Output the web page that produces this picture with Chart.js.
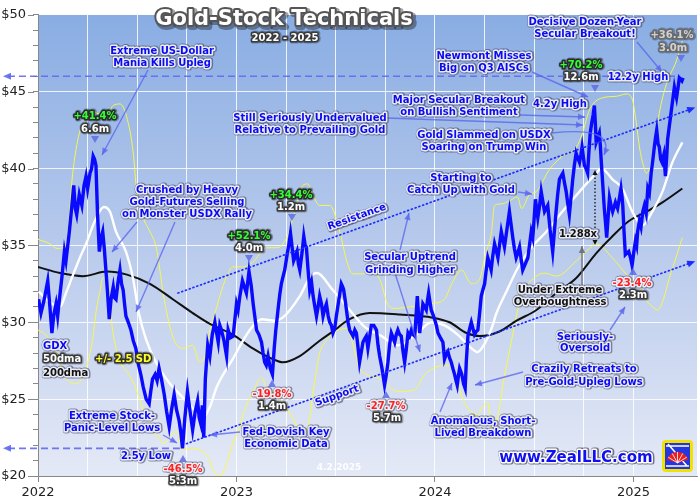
<!DOCTYPE html>
<html>
<head>
<meta charset="utf-8">
<title>Gold-Stock Technicals</title>
<script src="https://cdn.jsdelivr.net/npm/chart.js@4.4.1/dist/chart.umd.min.js"></script>
<style>
  html, body { margin: 0; padding: 0; background: #fff; }
  #grafico { display: block; width: 700px; height: 500px; }
</style>
</head>
<body>
<canvas id="grafico" width="700" height="500"></canvas>
<script>
// GDX closes (decimal years)
const gdxDates = [
  2022.003,2022.015,2022.030,2022.049,2022.060,2022.070,2022.080,2022.091,2022.099,2022.107,
  2022.121,2022.133,2022.141,2022.158,2022.170,2022.180,2022.188,2022.195,2022.208,2022.221,
  2022.232,2022.242,2022.250,2022.262,2022.270,2022.278,2022.285,2022.292,2022.300,2022.309,
  2022.318,2022.326,2022.334,2022.342,2022.350,2022.359,2022.368,2022.379,2022.386,2022.393,
  2022.403,2022.413,2022.421,2022.429,2022.436,2022.443,2022.455,2022.468,2022.480,2022.493,
  2022.505,2022.518,2022.530,2022.545,2022.560,2022.568,2022.577,2022.590,2022.600,2022.610,
  2022.622,2022.636,2022.648,2022.661,2022.674,2022.686,2022.698,2022.711,2022.720,2022.728,
  2022.740,2022.753,2022.765,2022.779,2022.792,2022.804,2022.812,2022.820,2022.828,2022.835,
  2022.843,2022.855,2022.866,2022.878,2022.891,2022.900,2022.908,2022.916,2022.924,2022.937,
  2022.950,2022.958,2022.970,2022.983,
  2023.000,2023.008,2023.017,2023.030,2023.040,2023.050,2023.063,2023.074,2023.084,2023.093,
  2023.101,2023.113,2023.126,2023.134,2023.142,2023.150,2023.159,2023.170,2023.181,2023.190,
  2023.198,2023.209,2023.218,2023.226,2023.235,2023.243,2023.255,2023.263,2023.272,2023.280,
  2023.288,2023.297,2023.305,2023.312,2023.319,2023.330,2023.339,2023.346,2023.352,2023.360,
  2023.369,2023.378,2023.386,2023.395,2023.403,2023.411,2023.419,2023.428,2023.436,2023.445,
  2023.453,2023.462,2023.470,2023.478,2023.486,2023.495,2023.503,2023.515,2023.528,2023.535,
  2023.540,2023.548,2023.554,2023.562,2023.570,2023.578,2023.587,2023.596,2023.604,2023.612,
  2023.620,2023.628,2023.637,2023.645,2023.654,2023.662,2023.670,2023.679,2023.692,2023.705,
  2023.713,2023.721,2023.733,2023.746,2023.755,2023.763,2023.771,2023.780,2023.789,2023.797,
  2023.805,2023.813,2023.822,2023.830,2023.838,2023.847,2023.855,2023.864,2023.872,2023.881,
  2023.890,2023.898,2023.905,2023.911,2023.917,2023.923,2023.931,2023.939,2023.948,2023.956,
  2023.962,2023.968,2023.975,2023.981,2023.990,2023.998,
  2024.007,2024.015,2024.027,2024.040,2024.048,2024.056,2024.065,2024.073,2024.082,2024.090,
  2024.099,2024.106,2024.112,2024.118,2024.124,2024.130,2024.135,2024.144,2024.152,2024.158,
  2024.166,2024.175,2024.183,2024.191,2024.199,2024.208,2024.216,2024.225,2024.233,2024.241,
  2024.250,2024.258,2024.266,2024.275,2024.283,2024.291,2024.300,2024.308,2024.317,2024.325,
  2024.334,2024.342,2024.350,2024.362,2024.375,2024.383,2024.392,2024.400,2024.409,2024.417,
  2024.426,2024.434,2024.442,2024.455,2024.468,2024.476,2024.485,2024.493,2024.506,2024.512,
  2024.518,2024.527,2024.535,2024.544,2024.552,2024.560,2024.568,2024.580,2024.593,2024.602,
  2024.610,2024.618,2024.627,2024.635,2024.644,2024.652,2024.661,2024.669,2024.677,2024.686,
  2024.694,2024.702,2024.711,2024.719,2024.728,2024.735,2024.741,2024.747,2024.753,2024.761,
  2024.769,2024.775,2024.782,2024.790,2024.797,2024.803,2024.808,2024.812,2024.820,2024.828,
  2024.833,2024.837,2024.845,2024.853,2024.859,2024.865,2024.872,2024.879,2024.887,2024.895,
  2024.902,2024.909,2024.914,2024.920,2024.928,2024.937,2024.942,2024.946,2024.952,2024.959,
  2024.967,2024.976,2024.985,2024.993,
  2025.001,2025.010,2025.016,2025.021,2025.030,2025.038,2025.047,2025.055,2025.064,2025.072,
  2025.080,2025.089,2025.097,2025.105,2025.111,2025.117,2025.124,2025.130,2025.137,2025.144,
  2025.153,2025.161,2025.167,2025.172,2025.180,2025.189,2025.198,2025.206,2025.212,2025.217,
  2025.224,2025.231,2025.238,2025.244,2025.250
];
const gdxClose = [
  31.5,30.6,31.4,32.7,31.0,29.3,30.5,31.2,30.4,31.4,
  33.0,34.6,34.0,35.9,37.5,38.9,37.4,37.0,38.3,37.6,
  38.9,39.5,38.7,39.7,40.0,40.8,40.6,40.2,37.0,34.6,
  35.5,35.9,34.8,33.4,32.0,30.2,31.5,32.3,31.6,31.5,
  32.6,33.4,32.5,32.1,31.2,30.4,30.0,29.5,28.8,28.3,
  27.3,26.6,25.8,25.0,24.7,25.5,26.3,26.6,26.2,27.0,
  26.3,25.3,24.2,23.2,24.4,25.3,24.3,23.6,22.8,21.8,
  23.8,25.5,24.3,23.0,24.2,24.9,23.8,23.4,24.6,22.5,
  26.3,28.5,27.8,29.2,30.0,29.3,28.7,29.8,29.5,28.8,
  27.8,29.5,29.0,29.1,
  31.2,30.8,31.7,32.7,32.3,31.9,33.3,32.4,31.2,30.3,
  29.5,29.2,28.7,28.0,27.4,27.2,27.8,27.0,26.6,28.3,
  29.5,30.8,31.8,32.5,33.0,33.4,34.4,35.0,35.8,34.9,
  34.0,34.3,34.6,33.8,33.4,34.5,35.6,35.0,34.9,33.5,
  32.1,32.6,31.7,31.0,30.4,31.0,31.7,31.2,30.4,30.9,
  31.2,30.4,30.0,29.8,29.3,29.6,30.4,31.4,32.5,32.3,
  32.1,31.4,30.8,30.0,29.5,29.3,29.1,29.5,29.3,28.4,
  27.4,28.0,28.7,28.9,29.1,28.3,29.0,29.8,29.8,29.5,
  28.5,27.8,27.0,25.9,26.6,27.4,28.5,29.3,29.0,28.7,
  29.2,29.5,29.2,29.1,28.2,27.4,28.2,29.3,29.1,29.5,
  29.2,29.1,30.5,31.7,30.5,29.3,30.2,31.2,31.0,30.8,
  31.4,31.9,31.3,30.8,30.5,30.2,
  29.8,29.3,29.0,28.7,27.6,27.9,28.1,27.7,27.4,27.0,
  26.6,26.2,25.9,26.5,27.0,26.8,26.6,26.0,25.7,27.5,
  29.1,29.6,30.0,29.6,29.2,29.4,29.5,30.6,31.7,32.1,
  32.5,33.4,34.2,33.8,33.4,34.3,35.1,34.7,34.2,35.0,
  35.9,35.4,34.9,36.0,37.2,36.4,35.5,34.8,34.2,34.5,
  34.9,34.1,33.4,33.8,34.2,35.0,35.9,35.5,38.0,37.4,
  36.8,37.6,38.5,37.8,37.2,37.4,37.6,36.0,34.6,36.0,
  37.2,38.3,39.3,39.5,39.7,39.1,38.5,37.7,37.0,38.2,
  39.3,40.2,41.0,40.7,40.4,40.9,41.4,40.8,40.2,40.0,
  39.7,41.0,42.3,43.0,43.5,44.1,42.9,41.7,42.0,42.3,
  41.5,40.6,39.0,37.4,36.5,35.5,36.8,38.1,37.6,37.2,
  37.5,37.8,37.6,37.4,38.0,38.7,38.2,37.6,36.0,34.4,
  34.5,34.6,34.2,33.7,
  34.5,35.3,35.0,35.9,36.6,36.2,37.2,37.6,37.1,38.7,
  38.4,39.7,40.5,41.4,42.0,42.5,41.6,41.4,40.6,40.4,
  40.9,39.5,40.7,41.9,42.7,43.6,44.5,45.3,44.9,44.6,
  45.2,45.9,45.8,45.7,45.9
];

// 50-day moving average
const ma50Dates = [
  2022.004,2022.060,2022.111,2022.141,2022.171,2022.211,2022.242,2022.287,2022.332,2022.362,
  2022.393,2022.443,2022.478,2022.508,2022.544,2022.594,2022.659,2022.730,2022.795,2022.830,
  2022.866,2022.901,2022.981,2023.067,2023.127,2023.193,2023.233,2023.319,2023.369,2023.404,
  2023.485,2023.570,2023.646,2023.731,2023.812,2023.897,2023.983,2024.048,2024.114,2024.184,
  2024.214,2024.250,2024.285,2024.310,2024.360,2024.416,2024.481,2024.562,2024.642,2024.728,
  2024.813,2024.838,2024.894,2024.944,2024.994,2025.045,2025.095,2025.146,2025.196,2025.246
];
const ma50Values = [
  32.0,31.3,31.0,31.9,32.9,34.2,35.1,36.6,37.5,37.2,
  35.9,34.6,32.9,30.6,28.9,27.4,26.1,25.1,24.2,23.8,
  24.5,25.8,27.6,29.5,30.2,30.1,30.3,31.7,32.9,33.2,
  32.1,30.8,29.7,29.1,28.5,29.1,30.0,29.8,29.2,28.3,
  28.05,28.6,29.6,30.6,32.0,33.5,34.8,35.9,37.2,38.5,
  39.7,40.0,39.3,38.7,37.2,36.3,37.2,38.5,40.4,41.7
];

// 200-day moving average
const ma200Dates = [
  2022.000,2022.111,2022.226,2022.347,2022.448,2022.564,2022.679,2022.780,2022.866,2022.981,
  2023.082,2023.183,2023.233,2023.319,2023.419,2023.485,2023.570,2023.671,2023.822,2023.988,
  2024.073,2024.159,2024.224,2024.325,2024.411,2024.511,2024.612,2024.713,2024.813,2024.894,
  2024.979,2025.080,2025.146,2025.246
];
const ma200Values = [
  33.6,33.2,33.0,33.3,33.1,32.5,31.5,30.6,29.9,29.2,
  28.3,27.6,27.4,27.8,28.8,29.4,30.2,30.6,30.5,30.3,
  30.0,29.3,29.1,29.4,30.1,30.8,31.9,32.9,34.5,35.6,
  36.6,37.3,37.8,38.7
];

// +2.5 SD band
const upperDates = [
  2022.000,2022.060,2022.096,2022.141,2022.175,2022.208,2022.245,2022.275,2022.295,2022.346,
  2022.379,2022.413,2022.446,2022.480,2022.497,2022.530,2022.564,2022.597,2022.614,2022.629,
  2022.678,2022.728,2022.779,2022.815,2022.845,2022.866,2022.901,2022.916,2022.951,2022.981,
  2023.032,2023.082,2023.152,2023.203,2023.253,2023.303,2023.334,2023.359,2023.384,2023.419,
  2023.470,2023.520,2023.555,2023.585,2023.636,2023.671,2023.721,2023.761,2023.797,2023.872,
  2023.973,2024.048,2024.084,2024.134,2024.184,2024.225,2024.250,2024.285,2024.300,2024.335,
  2024.375,2024.416,2024.436,2024.476,2024.511,2024.577,2024.642,2024.713,2024.743,2024.778,
  2024.843,2024.914,2024.964,2024.994,2025.015,2025.030,2025.050,2025.065,2025.095,2025.130,
  2025.166,2025.216,2025.246
];
const upperValues = [
  35.4,35.1,34.8,35.0,39.7,42.3,43.2,43.8,43.6,43.5,
  44.1,44.2,43.4,41.0,38.5,36.8,35.9,34.8,33.4,32.0,
  29.1,28.3,28.5,27.4,28.0,29.5,31.0,31.7,33.0,33.6,
  33.6,33.9,34.85,34.85,35.5,37.6,38.9,39.0,38.3,37.6,
  37.6,35.9,34.0,33.15,33.15,33.3,32.8,31.2,30.9,31.0,
  31.2,31.5,32.5,33.4,32.5,32.8,34.2,35.9,37.6,37.7,
  37.9,38.15,37.4,38.3,38.5,39.95,40.8,41.4,42.3,43.8,
  44.6,44.7,44.85,44.5,42.9,41.4,40.2,39.7,40.6,43.6,
  45.5,47.0,48.3
];

// -2.5 SD band
const lowerDates = [
  2022.000,2022.045,2022.111,2022.141,2022.191,2022.242,2022.275,2022.294,2022.312,2022.327,
  2022.351,2022.376,2022.409,2022.459,2022.493,2022.527,2022.560,2022.580,2022.610,2022.631,
  2022.664,2022.698,2022.728,2022.775,2022.815,2022.866,2022.881,2022.916,2022.950,2022.983,
  2023.017,2023.033,2023.084,2023.126,2023.151,2023.201,2023.252,2023.285,2023.319,2023.352,
  2023.386,2023.419,2023.453,2023.486,2023.554,2023.621,2023.654,2023.730,2023.812,2023.897,
  2023.948,2024.065,2024.099,2024.132,2024.166,2024.216,2024.240,2024.265,2024.290,2024.315,
  2024.350,2024.384,2024.417,2024.436,2024.476,2024.552,2024.612,2024.713,2024.778,2024.813,
  2024.893,2024.979,2025.030,2025.063,2025.097,2025.122,2025.151,2025.181,2025.214,2025.246
];
const lowerValues = [
  29.5,29.1,27.5,26.4,26.0,27.0,28.9,30.8,32.0,32.9,
  32.5,29.5,27.6,26.6,25.7,24.4,23.6,22.9,22.5,22.1,
  22.6,22.9,21.7,21.8,21.7,21.0,20.4,20.0,20.8,22.2,
  23.15,24.0,25.5,26.4,25.8,25.3,24.4,23.7,23.0,22.8,
  25.5,28.0,28.8,29.3,29.6,27.0,26.6,26.3,25.5,25.6,
  26.6,27.2,26.8,25.3,24.4,24.0,24.5,24.8,22.9,23.8,
  26.5,28.7,30.8,31.8,32.6,33.2,33.0,34.0,34.8,35.1,
  34.2,32.9,32.3,31.45,31.0,30.8,31.5,32.9,34.2,35.5
];

// trend channel and price levels
const resistanceDates = [2022.705, 2025.296];
const resistanceValues = [31.9, 43.9];
const supportDates = [2022.748, 2025.296];
const supportValues = [22.1, 33.9];
const highLevel = 46.0, highLevelEnd = 2025.216;
const lowLevel = 21.8, lowLevelEnd = 2022.715;

const yearLabels = [2022, 2023, 2024, 2025];

function puntos(fechas, valores) {
  const n = Math.min(fechas.length, valores.length);
  const out = [];
  for (let i = 0; i < n; i++) out.push({x: fechas[i], y: valores[i]});
  return out;
}

const estilos = {
  blue:   {fill: '#0b0bef', stroke: '#e9ecf7', shade: 'rgba(60,60,90,0.55)'},
  red:    {fill: '#ff1f1f', stroke: '#eceef6', shade: 'rgba(60,60,90,0.55)'},
  black:  {fill: '#111111', stroke: '#e9ecf4', shade: 'rgba(60,60,90,0.55)'},
  green:  {fill: '#33ff33', stroke: '#2a2a2a', shade: 'rgba(0,0,0,0.3)'},
  white:  {fill: '#ffffff', stroke: '#3a3a3a', shade: 'rgba(0,0,0,0.3)'},
  gray:   {fill: '#d2d2d2', stroke: '#6a6a6a', shade: 'rgba(0,0,0,0.25)'},
  yellow: {fill: '#ffff2a', stroke: '#333333', shade: 'rgba(0,0,0,0.3)'}
};

// text notes: [text, x, y, style, align]
const notas = [
  ['Extreme US-Dollar', 162, 51, 'blue'], ['Mania Kills Upleg', 162, 63, 'blue'],
  ['+41.4%', 95, 116, 'green'], ['6.6m', 95, 129, 'white'],
  ['Still Seriously Undervalued', 310, 118, 'blue'], ['Relative to Prevailing Gold', 310, 130, 'blue'],
  ['Crushed by Heavy', 187, 190, 'blue'], ['Gold-Futures Selling', 187, 202, 'blue'], ['on Monster USDX Rally', 187, 214, 'blue'],
  ['+52.1%', 249, 236, 'green'], ['4.0m', 249, 248, 'white'],
  ['+34.4%', 291, 195, 'green'], ['1.2m', 291, 207, 'white'],
  ['-19.8%', 272, 394, 'red'], ['1.4m', 272, 406, 'white'],
  ['Fed-Dovish Key', 286, 432, 'blue'], ['Economic Data', 286, 444, 'blue'],
  ['Extreme Stock-', 112, 416, 'blue'], ['Panic-Level Lows', 112, 428, 'blue'],
  ['2.5y Low', 146, 456, 'blue'],
  ['-46.5%', 183, 469, 'red'], ['5.3m', 183, 481, 'white'],
  ['GDX', 43, 346, 'blue', 'left'],
  ['50dma', 43, 359, 'white', 'left'], ['+/- 2.5 SD', 95, 359, 'yellow', 'left'],
  ['200dma', 43, 373, 'black', 'left'],
  ['Starting to', 461, 178, 'blue'], ['Catch Up with Gold', 461, 190, 'blue'],
  ['Secular Uptrend', 410, 257, 'blue'], ['Grinding Higher', 410, 270, 'blue'],
  ['Major Secular Breakout', 459, 100, 'blue'], ['on Bullish Sentiment', 459, 112, 'blue'],
  ['4.2y High', 560, 104, 'blue'],
  ['Newmont Misses', 484, 56, 'blue'], ['Big on Q3 AISCs', 484, 68, 'blue'],
  ['+70.2%', 581, 65, 'green'], ['12.6m', 581, 77, 'white'],
  ['12.2y High', 638, 77, 'blue'],
  ['Decisive Dozen-Year', 585, 22, 'blue'], ['Secular Breakout!', 585, 34, 'blue'],
  ['+36.1%', 672, 35, 'gray'], ['3.0m', 673, 48, 'gray'],
  ['Gold Slammed on USDX', 484, 135, 'blue'], ['Soaring on Trump Win', 484, 147, 'blue'],
  ['1.288x', 578, 234, 'black'],
  ['Under Extreme', 560, 290, 'black'], ['Overboughtness', 560, 302, 'black'],
  ['-23.4%', 632, 283, 'red'], ['2.3m', 633, 295, 'white'],
  ['Seriously-', 585, 337, 'blue'], ['Oversold', 585, 348, 'blue'],
  ['Crazily Retreats to', 584, 369, 'blue'], ['Pre-Gold-Upleg Lows', 584, 382, 'blue'],
  ['-27.7%', 386, 406, 'red'], ['5.7m', 387, 418, 'white'],
  ['Anomalous, Short-', 483, 421, 'blue'], ['Lived Breakdown', 483, 433, 'blue']
];

// pointer arrows: [x1, y1, x2, y2]
const flechas = [
  [148, 70, 102, 155], [137, 222, 112, 252], [175, 222, 136, 312],
  [163, 435, 177, 443], [240, 432, 210, 435], [387, 118, 583, 125],
  [520, 115, 585, 117], [532, 72, 588, 97], [637, 42, 662, 72],
  [400, 250, 409, 213], [395, 273, 420, 352], [518, 192, 532, 194],
  [610, 330, 625, 307], [523, 372, 475, 385], [440, 412, 452, 383]
];
// little markers: [x, y, pointing down?]
const marcas = [
  [95, 139, true], [249, 258, true], [292, 217, true], [595, 88, true], [681, 58, true],
  [183, 459, false], [272, 384, false], [386, 395, false], [633, 272, false]
];

function cabeza(ctx, x1, y1, x2, y2, len, ancho) {
  const a = Math.atan2(y2 - y1, x2 - x1);
  ctx.beginPath();
  ctx.moveTo(x2, y2);
  ctx.lineTo(x2 - len * Math.cos(a) + ancho * Math.sin(a), y2 - len * Math.sin(a) - ancho * Math.cos(a));
  ctx.lineTo(x2 - len * Math.cos(a) - ancho * Math.sin(a), y2 - len * Math.sin(a) + ancho * Math.cos(a));
  ctx.closePath();
  ctx.fill();
}

function flecha(ctx, x1, y1, x2, y2, color) {
  ctx.strokeStyle = color; ctx.fillStyle = color;
  ctx.lineWidth = 1.4;
  ctx.beginPath(); ctx.moveTo(x1, y1); ctx.lineTo(x2, y2); ctx.stroke();
  cabeza(ctx, x1, y1, x2, y2, 7, 3.2);
}

function texto(ctx, s, x, y, st, size, align) {
  ctx.font = 'bold ' + size + 'px "DejaVu Sans"';
  ctx.textAlign = align || 'center';
  ctx.textBaseline = 'middle';
  ctx.lineJoin = 'round';
  ctx.strokeStyle = st.shade; ctx.lineWidth = 5;
  ctx.strokeText(s, x + 0.6, y + 0.6);
  ctx.strokeStyle = st.stroke; ctx.lineWidth = 3;
  ctx.strokeText(s, x, y);
  ctx.fillStyle = st.fill;
  ctx.fillText(s, x, y);
}

const fondo = {
  id: 'fondo',
  beforeDraw(chart) {
    const {ctx, chartArea: a} = chart;
    ctx.save();
    ctx.fillStyle = '#ffffff';
    ctx.fillRect(0, 0, chart.width, chart.height);
    const g = ctx.createLinearGradient(0, a.top, 0, a.bottom);
    g.addColorStop(0, '#89ade3');
    g.addColorStop(0.5, '#b8caec');
    g.addColorStop(1, '#e4e9f6');
    ctx.fillStyle = g;
    ctx.fillRect(a.left, a.top, a.right - a.left, a.bottom - a.top);
    ctx.restore();
  }
};

const canal = {
  id: 'canal',
  afterDatasetsDraw(chart) {
    const ctx = chart.ctx, xs = chart.scales.x, ys = chart.scales.y;
    ctx.save();
    // dashed price levels
    ctx.strokeStyle = 'rgba(95,105,240,0.9)';
    ctx.fillStyle = 'rgba(95,105,240,0.9)';
    ctx.lineWidth = 1.6;
    [[highLevel, highLevelEnd], [lowLevel, lowLevelEnd]].forEach(function (lv) {
      const y = ys.getPixelForValue(lv[0]);
      ctx.setLineDash([7, 4]);
      ctx.beginPath(); ctx.moveTo(8, y); ctx.lineTo(xs.getPixelForValue(lv[1]), y); ctx.stroke();
      ctx.setLineDash([]);
      cabeza(ctx, 14, y, 3, y, 8, 3.5);
    });
    // dotted trend channel
    ctx.strokeStyle = '#1c2cff'; ctx.fillStyle = '#1c2cff';
    ctx.lineWidth = 1.7; ctx.lineCap = 'round';
    [[resistanceDates, resistanceValues], [supportDates, supportValues]].forEach(function (t) {
      const x1 = xs.getPixelForValue(t[0][0]), y1 = ys.getPixelForValue(t[1][0]);
      const x2 = xs.getPixelForValue(t[0][1]), y2 = ys.getPixelForValue(t[1][1]);
      ctx.setLineDash([1, 3]);
      ctx.beginPath(); ctx.moveTo(x1, y1); ctx.lineTo(x2, y2); ctx.stroke();
      ctx.setLineDash([]);
      cabeza(ctx, x1, y1, x2 + 3, y2 - 1, 8, 3.5);
    });
    ctx.restore();
  }
};

const anotaciones = {
  id: 'anotaciones',
  afterDraw(chart) {
    const ctx = chart.ctx, a = chart.chartArea, ys = chart.scales.y;
    ctx.save();
    // longer major ticks on the price axis
    ctx.strokeStyle = '#888'; ctx.lineWidth = 1;
    for (let v = 20; v <= 50; v += 5) {
      const y = Math.round(ys.getPixelForValue(v)) + 0.5;
      ctx.beginPath(); ctx.moveTo(a.left - 10, y); ctx.lineTo(a.left - 4, y); ctx.stroke();
    }
    // pointer arrows
    flechas.forEach(function (f) { flecha(ctx, f[0], f[1], f[2], f[3], 'rgba(90,100,240,0.78)'); });
    // curved arrow for the Trump-win selloff
    ctx.strokeStyle = 'rgba(90,100,240,0.78)'; ctx.fillStyle = 'rgba(90,100,240,0.78)';
    ctx.lineWidth = 1.4;
    ctx.beginPath(); ctx.moveTo(552, 133); ctx.quadraticCurveTo(616, 126, 604, 155); ctx.stroke();
    cabeza(ctx, 610, 140, 604, 155, 7, 3.2);
    // gray arrow from the overboughtness note
    flecha(ctx, 582, 286, 582, 246, 'rgba(110,110,120,0.9)');
    // dotted measuring line
    ctx.strokeStyle = '#111'; ctx.fillStyle = '#111'; ctx.lineWidth = 1.3;
    ctx.setLineDash([1.5, 2]);
    ctx.beginPath(); ctx.moveTo(595, 174); ctx.lineTo(595, 241); ctx.stroke();
    ctx.setLineDash([]);
    cabeza(ctx, 595, 180, 595, 170, 5, 2.5);
    cabeza(ctx, 595, 236, 595, 245, 5, 2.5);
    // markers
    ctx.fillStyle = 'rgba(100,112,230,0.9)';
    marcas.forEach(function (m) {
      const d = m[2] ? 1 : -1;
      ctx.beginPath();
      ctx.moveTo(m[0] - 4, m[1] - 3 * d);
      ctx.lineTo(m[0] + 4, m[1] - 3 * d);
      ctx.lineTo(m[0], m[1] + 4 * d);
      ctx.closePath(); ctx.fill();
    });
    // trend labels along the channel
    const ang = Math.atan2(ys.getPixelForValue(resistanceValues[1]) - ys.getPixelForValue(resistanceValues[0]),
      chart.scales.x.getPixelForValue(resistanceDates[1]) - chart.scales.x.getPixelForValue(resistanceDates[0]));
    [['Resistance', 357, 217], ['Support', 337, 396]].forEach(function (r) {
      ctx.save();
      ctx.translate(r[1], r[2]); ctx.rotate(ang);
      texto(ctx, r[0], 0, 0, estilos.blue, 10);
      ctx.restore();
    });
    // notes
    notas.forEach(function (n) { texto(ctx, n[0], n[1], n[2], estilos[n[3]], 10, n[4]); });
    // date stamp
    ctx.font = 'bold 9px "DejaVu Sans"'; ctx.textAlign = 'center'; ctx.textBaseline = 'middle';
    ctx.fillStyle = 'rgba(255,255,255,0.95)';
    ctx.fillText('4.2.2025', 339, 468);
    // site name
    texto(ctx, 'www.ZealLLC.com', 576, 458, {fill: '#1010f0', stroke: '#ffffff', shade: 'rgba(40,40,70,0.6)'}, 15);
    // logo
    ctx.fillStyle = '#f2e200';
    ctx.beginPath(); ctx.roundRect(662, 440, 31, 32, 4); ctx.fill();
    ctx.fillStyle = '#2436e0';
    ctx.fillRect(665, 443, 25, 26);
    ctx.strokeStyle = '#ffffff'; ctx.lineWidth = 1.5;
    ctx.beginPath();
    ctx.moveTo(666, 446); ctx.lineTo(689, 446);
    ctx.moveTo(666, 466); ctx.lineTo(689, 466);
    ctx.moveTo(668, 444); ctx.lineTo(687, 466);
    ctx.stroke();
    ctx.fillStyle = '#e82020';
    ctx.beginPath(); ctx.moveTo(677.5, 463); ctx.arc(677.5, 463, 11, Math.PI * 1.1, Math.PI * 1.9); ctx.closePath(); ctx.fill();
    ctx.strokeStyle = '#ffffff'; ctx.lineWidth = 0.8;
    for (let k = 0; k < 5; k++) {
      const t = Math.PI * (1.18 + k * 0.16);
      ctx.beginPath(); ctx.moveTo(677.5, 463); ctx.lineTo(677.5 + 11 * Math.cos(t), 463 + 11 * Math.sin(t)); ctx.stroke();
    }
    // title
    ctx.font = 'bold 21px "DejaVu Sans"'; ctx.textAlign = 'center'; ctx.textBaseline = 'middle';
    ctx.lineJoin = 'round';
    ctx.strokeStyle = 'rgba(0,0,0,0.35)'; ctx.lineWidth = 6;
    ctx.strokeText('Gold-Stock Technicals', 286, 22);
    ctx.strokeStyle = '#555'; ctx.lineWidth = 4;
    ctx.strokeText('Gold-Stock Technicals', 284, 20);
    ctx.fillStyle = '#ffffff';
    ctx.fillText('Gold-Stock Technicals', 284, 20);
    texto(ctx, '2022 - 2025', 285, 38, estilos.white, 10);
    ctx.restore();
  }
};

function esEntero(v) { return Math.abs(v - Math.round(v)) < 1e-6; }

const ctx = document.getElementById('grafico').getContext('2d');
const grafico = new Chart(ctx, {
  type: 'line',
  data: {
    datasets: [
      {label: 'GDX', data: puntos(gdxDates, gdxClose), borderColor: '#0a0aff', borderWidth: 3.4, tension: 0},
      {label: '50dma', data: puntos(ma50Dates, ma50Values), borderColor: '#ffffff', borderWidth: 2.4, cubicInterpolationMode: 'monotone'},
      {label: '200dma', data: puntos(ma200Dates, ma200Values), borderColor: '#111111', borderWidth: 2, cubicInterpolationMode: 'monotone'},
      {label: '+2.5 SD', data: puntos(upperDates, upperValues), borderColor: 'rgba(250,250,70,0.95)', borderWidth: 1, cubicInterpolationMode: 'monotone'},
      {label: '-2.5 SD', data: puntos(lowerDates, lowerValues), borderColor: 'rgba(250,250,70,0.95)', borderWidth: 1, cubicInterpolationMode: 'monotone'}
    ]
  },
  options: {
    responsive: false,
    animation: false,
    events: [],
    elements: {point: {radius: 0}, line: {fill: false}},
    layout: {padding: {top: 6, right: 2, left: 0, bottom: 0}},
    plugins: {legend: {display: false}, tooltip: {enabled: false}},
    scales: {
      x: {
        type: 'linear', min: 2022, max: 2025.32,
        afterFit: function (s) { s.height = 24; },
        border: {color: '#888'},
        grid: {
          color: 'rgba(255,255,255,0.85)',
          tickLength: 6,
          tickColor: function (c) { return c.tick && esEntero(c.tick.value) ? '#888' : 'rgba(0,0,0,0)'; }
        },
        ticks: {
          stepSize: 0.25, autoSkip: false, maxRotation: 0, padding: 3,
          color: '#222', font: {family: '"DejaVu Sans"', size: 13},
          callback: function (v) {
            const y = Math.round(v);
            return esEntero(v) && yearLabels.indexOf(y) >= 0 ? String(y) : '';
          }
        }
      },
      y: {
        min: 20, max: 50,
        afterFit: function (s) { s.width = 38; },
        border: {color: '#888'},
        grid: {
          color: function (c) { return c.tick && c.tick.value % 5 === 0 ? 'rgba(255,255,255,0.85)' : 'rgba(0,0,0,0)'; },
          tickColor: '#888',
          tickLength: 5
        },
        ticks: {
          stepSize: 1, autoSkip: false, padding: 7,
          color: '#222', font: {family: '"DejaVu Sans"', size: 13},
          callback: function (v) { return v % 5 === 0 ? '$' + v : ''; }
        }
      }
    }
  },
  plugins: [fondo, canal, anotaciones]
});
</script>
</body>
</html>
